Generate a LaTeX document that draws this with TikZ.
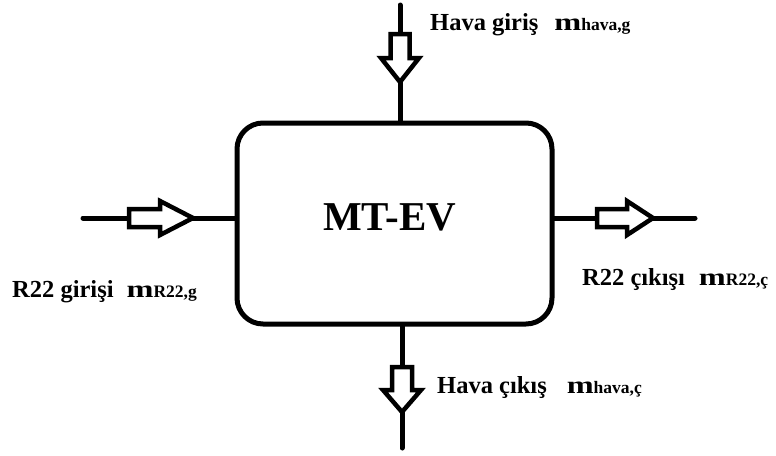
\documentclass[tikz,border=0pt]{standalone}
\usepackage{fontspec}
\usepackage{graphicx}
\setmainfont{Liberation Serif}
\newcommand\wideM{\scalebox{1.32}[1]{m}}
\newcommand\subfnt{\fontsize{17.5}{20}\selectfont}
\begin{document}
\begin{tikzpicture}[x=1pt,y=-1pt,
  conn/.style={line width=5pt, line cap=round},
  harrow/.style={line width=4.5pt, fill=white, line join=miter, miter limit=20},
  lbl/.style={inner sep=0pt, anchor=base west, font=\fontsize{24.5}{28}\selectfont\bfseries},
  box/.style={draw, line width=5pt, rounded corners=26pt, minimum width=315pt, minimum height=201pt, inner sep=0pt}]
\useasboundingbox (0,0) rectangle (776,455);
\node[box] (ev) at (394.5,223.5) {};
\node[inner sep=0pt, anchor=base, font=\fontsize{41}{46}\selectfont\bfseries] (title) at (389.5,230) {MT-EV};
% coordinates of free ends
\coordinate (tin) at (400,5);
\coordinate (bout) at (402,448);
\coordinate (lin) at (83,218);
\coordinate (rout) at (695,218);
% connectors
\draw[conn] (tin) -- (tin |- ev.north);
\draw[conn] (bout |- ev.south) -- (bout);
\draw[conn] (lin) -- (lin -| ev.west);
\draw[conn] (rout -| ev.east) -- (rout);
% hollow arrows
\draw[harrow] (390.5,34) -- (409.5,34) -- (409.5,58) -- (419,58) -- (400,82) -- (381,58) -- (390.5,58) -- cycle;
\draw[harrow] (392,367) -- (412,367) -- (412,390) -- (421,390) -- (402,412) -- (383,390) -- (392,390) -- cycle;
\draw[harrow] (129,209) -- (160,209) -- (160,201) -- (193,218) -- (160,235) -- (160,227) -- (129,227) -- cycle;
\draw[harrow] (597,209) -- (627,209) -- (627,201) -- (653,218) -- (627,235) -- (627,227) -- (597,227) -- cycle;
% labels
\node[lbl] (l1) at (430,30) {Hava giriş\hspace{16pt}\wideM{\subfnt hava,g}};
\node[lbl] (l2) at (12,297) {R22 girişi\hspace{13pt}\wideM{\subfnt R22,g}};
\node[lbl] (l3) at (582,285) {R22 çıkışı\hspace{14pt}\wideM{\subfnt R22,ç}};
\node[lbl] (l4) at (437,393) {Hava çıkış\hspace{20pt}\wideM{\subfnt hava,ç}};
\end{tikzpicture}
\end{document}
